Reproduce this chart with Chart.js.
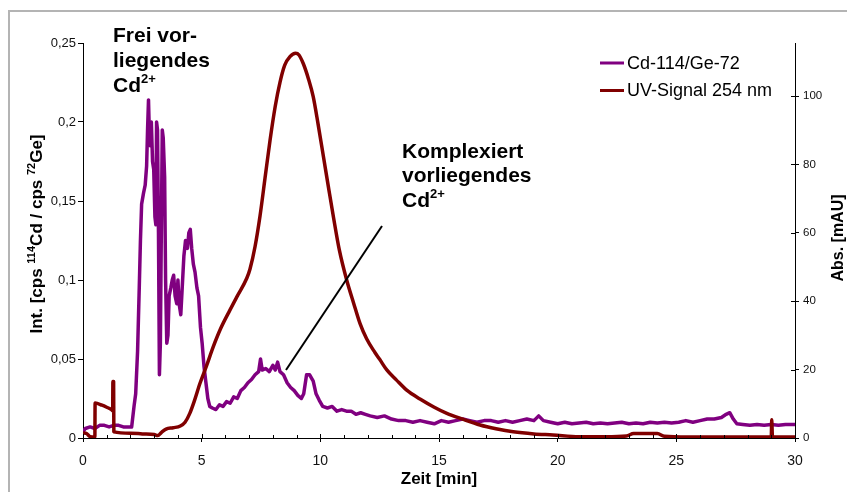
<!DOCTYPE html>
<html>
<head>
<meta charset="utf-8">
<script src="https://cdn.jsdelivr.net/npm/chart.js@4.4.1/dist/chart.umd.min.js"></script>
<style>
  body { margin: 0; background: #fff; }
  #wrap { width: 847px; height: 492px; }
</style>
</head>
<body>
<div id="wrap"><canvas id="chromatogram" width="847" height="492"></canvas></div>
<script>
// Cd-114/Ge-72 ratio (left axis), time in min
const cdTime = [0, 0.1, 0.3, 0.5, 0.7, 0.9, 1.1, 1.3, 1.5, 1.7, 1.9, 2.05, 2.15, 2.22, 2.3, 2.37, 2.42, 2.47, 2.55, 2.62,
  2.68, 2.72, 2.76, 2.8, 2.84, 2.88, 2.93, 2.98, 3.03, 3.07, 3.1, 3.14, 3.18, 3.22, 3.26, 3.3, 3.34, 3.38, 3.44, 3.48,
  3.53, 3.58, 3.63, 3.7, 3.76, 3.82, 3.88, 3.95, 4.0, 4.05, 4.12, 4.18, 4.25, 4.32, 4.4, 4.46, 4.52, 4.58, 4.65, 4.72,
  4.8, 4.87, 4.95, 5.02, 5.1, 5.18, 5.26, 5.34, 5.45, 5.6, 5.75, 5.9, 6.05, 6.2, 6.35, 6.5, 6.65, 6.8, 6.95, 7.1,
  7.25, 7.4, 7.48, 7.55, 7.7, 7.85, 8.0, 8.1, 8.2, 8.3, 8.45, 8.6, 8.75, 8.9, 9.05, 9.2, 9.3, 9.42, 9.55, 9.7,
  9.82, 9.95, 10.1, 10.3, 10.5, 10.7, 10.9, 11.1, 11.3, 11.5, 11.7, 11.9, 12.1, 12.4, 12.7, 13.0, 13.3, 13.6, 13.9, 14.2,
  14.5, 14.8, 15.1, 15.4, 15.7, 16.0, 16.3, 16.6, 16.9, 17.2, 17.5, 17.8, 18.1, 18.4, 18.7, 19.0, 19.2, 19.4, 19.7, 20.0,
  20.3, 20.6, 20.9, 21.2, 21.5, 21.8, 22.1, 22.4, 22.7, 23.0, 23.3, 23.6, 23.9, 24.2, 24.5, 24.8, 25.1, 25.4, 25.7, 26.0,
  26.3, 26.6, 26.9, 27.1, 27.25, 27.4, 27.55, 27.8, 28.1, 28.4, 28.7, 29.0, 29.3, 29.6, 30.0];
const cdRatio = [0.004, 0.006, 0.007, 0.006, 0.008, 0.008, 0.007, 0.008, 0.008, 0.007, 0.007, 0.007, 0.02, 0.028, 0.055, 0.095, 0.125, 0.148, 0.155, 0.16,
  0.172, 0.195, 0.214, 0.19, 0.185, 0.2, 0.175, 0.17, 0.14, 0.135, 0.2, 0.195, 0.13, 0.04, 0.06, 0.13, 0.195, 0.19, 0.165, 0.1,
  0.06, 0.065, 0.09, 0.095, 0.1, 0.103, 0.09, 0.085, 0.1, 0.085, 0.078, 0.095, 0.115, 0.125, 0.12, 0.13, 0.132, 0.12, 0.11, 0.105,
  0.095, 0.09, 0.07, 0.06, 0.045, 0.035, 0.025, 0.02, 0.019, 0.018, 0.021, 0.02, 0.023, 0.022, 0.026, 0.025, 0.03, 0.032, 0.035, 0.037,
  0.04, 0.042, 0.05, 0.043, 0.044, 0.042, 0.046, 0.043, 0.048, 0.042, 0.04, 0.035, 0.032, 0.03, 0.027, 0.025, 0.028, 0.04, 0.04, 0.036,
  0.028, 0.024, 0.02, 0.019, 0.02, 0.017, 0.018, 0.017, 0.017, 0.015, 0.016, 0.015, 0.014, 0.013, 0.014, 0.012, 0.011, 0.011, 0.01, 0.011,
  0.01, 0.009, 0.011, 0.01, 0.011, 0.012, 0.011, 0.01, 0.011, 0.011, 0.01, 0.011, 0.01, 0.011, 0.012, 0.011, 0.014, 0.011, 0.01, 0.009,
  0.01, 0.009, 0.0095, 0.01, 0.009, 0.0095, 0.009, 0.0095, 0.01, 0.009, 0.0095, 0.009, 0.01, 0.0095, 0.01, 0.0095, 0.01, 0.011, 0.01, 0.011,
  0.012, 0.012, 0.013, 0.015, 0.016, 0.012, 0.009, 0.0085, 0.008, 0.0085, 0.008, 0.0085, 0.008, 0.0085, 0.0085];

// UV absorbance at 254 nm (right axis)
const uvTime = [0, 0.15, 0.3, 0.5, 0.51, 0.8, 1.0, 1.2, 1.25, 1.26, 1.29, 1.3, 2.0, 2.5, 3.0, 3.15, 3.3, 3.5, 3.8, 4.1,
  4.3, 4.5, 4.7, 4.93, 5.2, 5.49, 5.8, 6.19, 6.5, 6.9, 7.04, 7.25, 7.46, 7.67, 7.88, 8.1, 8.3, 8.5, 8.72, 8.96,
  9.1, 9.28, 9.5, 9.7, 9.9, 10.13, 10.35, 10.55, 10.8, 11.11, 11.4, 11.67, 11.95, 12.3, 12.5, 12.8, 13.2, 13.64, 14.2, 14.8,
  15.33, 16.0, 16.73, 17.4, 18.13, 19.0, 19.8, 20.9, 22.0, 22.9, 23.2, 24.2, 24.5, 25.5, 27.0, 29.0, 29.02, 29.05, 30.0];
const uvAbs = [1.5, 1.3, 0.4, 0.3, 10.2, 9.6, 9.0, 8.3, 8.0, 16.5, 16.5, 1.8, 1.4, 1.2, 1.0, 0.7, 1.6, 2.6, 3.0, 3.5,
  4.6, 7.2, 11, 16, 21, 26.7, 32, 37.4, 41.5, 46.7, 49.5, 56, 65, 76, 87, 97, 104, 109, 111.5, 112.5,
  112, 109.5, 105, 99.8, 92, 82.3, 73, 64.7, 55, 46.2, 39.5, 33.5, 29, 25, 23, 19.9, 17, 14, 11.4, 9,
  7.2, 5.5, 3.8, 2.7, 1.8, 1.2, 0.9, 0.4, 0.4, 0.6, 1.3, 1.3, 0.5, 0.3, 0.3, 0.3, 5.3, 0.3, 0.3];

const seriesNames = ['Cd-114/Ge-72', 'UV-Signal 254 nm'];
const seriesColors = ['#800080', '#800000'];

const FONT = "'Liberation Sans', Arial, sans-serif";

function toPoints(xs, ys) {
  return xs.map((x, i) => ({ x: x, y: ys[i] }));
}

// draws text pieces, some of them as superscript; returns total width
function richText(ctx, parts, x, y, size, supSize, measureOnly) {
  let cx = x;
  parts.forEach(p => {
    const s = p.sup ? supSize : size;
    ctx.font = `bold ${s}px ${FONT}`;
    if (!measureOnly) ctx.fillText(p.t, cx, p.sup ? y - size * 0.42 : y);
    cx += ctx.measureText(p.t).width;
  });
  return cx - x;
}

const decor = {
  id: 'decor',
  afterDraw(chart) {
    const ctx = chart.ctx;
    const xs = chart.scales.x, yr = chart.scales.y2;
    const bottom = chart.chartArea.bottom;
    ctx.save();

    // chart area frame (top + left)
    ctx.strokeStyle = '#b4b4b4';
    ctx.lineWidth = 2;
    ctx.beginPath();
    ctx.moveTo(9, 492); ctx.lineTo(9, 11); ctx.lineTo(847, 11);
    ctx.stroke();

    // minor ticks + inner halves of major ticks
    ctx.strokeStyle = '#000';
    ctx.lineWidth = 1;
    ctx.beginPath();
    for (let t = 0; t <= 30; t++) {
      const px = Math.round(xs.getPixelForValue(t)) + 0.5;
      ctx.moveTo(px, bottom); ctx.lineTo(px, bottom - (t % 5 === 0 ? 4 : 3));
    }
    const rx = chart.chartArea.right;
    for (let v = 0; v <= 100; v += 20) {
      const py = Math.round(yr.getPixelForValue(v)) + 0.5;
      ctx.moveTo(rx, py); ctx.lineTo(rx - 4, py);
    }
    ctx.stroke();

    ctx.fillStyle = '#000';
    ctx.textBaseline = 'alphabetic';
    ctx.textAlign = 'left';

    // annotations
    richText(ctx, [{ t: 'Frei vor-' }], 113, 42, 21, 13);
    richText(ctx, [{ t: 'liegendes' }], 113, 67, 21, 13);
    richText(ctx, [{ t: 'Cd' }, { t: '2+', sup: true }], 113, 92, 21, 13);
    richText(ctx, [{ t: 'Komplexiert' }], 402, 158, 21, 13);
    richText(ctx, [{ t: 'vorliegendes' }], 402, 182, 21, 13);
    richText(ctx, [{ t: 'Cd' }, { t: '2+', sup: true }], 402, 207, 21, 13);

    ctx.strokeStyle = '#000';
    ctx.lineWidth = 2;
    ctx.beginPath();
    ctx.moveTo(286, 370); ctx.lineTo(382, 226);
    ctx.stroke();

    // legend
    ctx.lineWidth = 3;
    seriesNames.forEach((name, i) => {
      const ly = 63 + i * 27.5;
      ctx.strokeStyle = seriesColors[i];
      ctx.beginPath();
      ctx.moveTo(600, ly); ctx.lineTo(624, ly);
      ctx.stroke();
      ctx.font = `18px ${FONT}`;
      ctx.textBaseline = 'middle';
      ctx.fillText(name, 627, ly + 1);
    });

    // axis titles
    ctx.textBaseline = 'alphabetic';
    ctx.font = `bold 17px ${FONT}`;
    ctx.textAlign = 'center';
    ctx.fillText('Zeit [min]', (chart.chartArea.left + chart.chartArea.right) / 2, 484);

    ctx.textAlign = 'left';
    const leftTitle = [{ t: 'Int. [cps ' }, { t: '114', sup: true }, { t: 'Cd / cps ' }, { t: '72', sup: true }, { t: 'Ge]' }];
    ctx.save();
    ctx.translate(42, 234);
    ctx.rotate(-Math.PI / 2);
    const w = richText(ctx, leftTitle, 0, 0, 17, 11, true);
    richText(ctx, leftTitle, -w / 2, 0, 17, 11);
    ctx.restore();

    ctx.save();
    ctx.translate(843, 238);
    ctx.rotate(-Math.PI / 2);
    ctx.font = `bold 16px ${FONT}`;
    ctx.textAlign = 'center';
    ctx.fillText('Abs. [mAU]', 0, 0);
    ctx.restore();

    ctx.restore();
  }
};

const ctx = document.getElementById('chromatogram').getContext('2d');
new Chart(ctx, {
  type: 'line',
  data: {
    datasets: [
      {
        label: seriesNames[0],
        data: toPoints(cdTime, cdRatio),
        borderColor: seriesColors[0],
        borderWidth: 3.5,
        borderJoinStyle: 'round',
        pointRadius: 0,
        yAxisID: 'y',
        order: 1
      },
      {
        label: seriesNames[1],
        data: toPoints(uvTime, uvAbs),
        borderColor: seriesColors[1],
        borderWidth: 3.5,
        borderJoinStyle: 'round',
        cubicInterpolationMode: 'monotone',
        pointRadius: 0,
        yAxisID: 'y2',
        order: 0
      }
    ]
  },
  options: {
    responsive: false,
    animation: false,
    layout: { padding: { top: 43, left: 0, right: 0, bottom: 0 } },
    plugins: { legend: { display: false }, tooltip: { enabled: false } },
    elements: { line: { tension: 0 } },
    scales: {
      x: {
        type: 'linear',
        min: 0,
        max: 30,
        ticks: { stepSize: 5, color: '#111', font: { family: FONT, size: 14 }, padding: 11, maxRotation: 0 },
        grid: { drawOnChartArea: false, color: '#000', tickLength: 4 },
        border: { color: '#000', width: 1 },
        afterFit(scale) { scale.height = 54; }
      },
      y: {
        position: 'left',
        min: 0,
        max: 0.25,
        ticks: {
          stepSize: 0.05,
          color: '#111',
          font: { family: FONT, size: 13 },
          padding: 2,
          callback: v => String(Math.round(v * 100) / 100).replace('.', ',')
        },
        grid: { drawOnChartArea: false, color: '#000', tickLength: 5 },
        border: { color: '#000', width: 1 },
        afterFit(scale) { scale.width = 83; }
      },
      y2: {
        position: 'right',
        min: 0,
        max: 115.5,
        ticks: { stepSize: 20, color: '#111', font: { family: FONT, size: 11.5 }, padding: 4 },
        afterBuildTicks(scale) { scale.ticks = scale.ticks.filter(t => t.value <= 100); },
        grid: { drawOnChartArea: false, color: '#000', tickLength: 4 },
        border: { color: '#000', width: 1 },
        afterFit(scale) { scale.width = 52; }
      }
    }
  },
  plugins: [decor]
});
</script>
</body>
</html>
